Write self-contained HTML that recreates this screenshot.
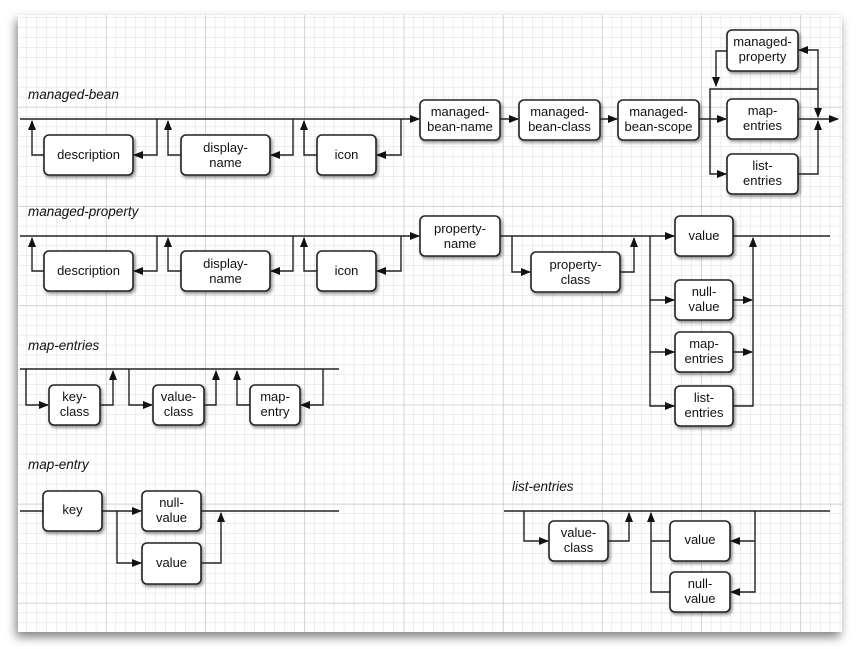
<!DOCTYPE html>
<html><head><meta charset="utf-8"><style>
body{margin:0;background:#fff;}
svg{display:block;}
text{font-family:"Liberation Sans",sans-serif;font-size:13px;fill:#111;}
.lbl{font-style:italic;font-size:13.5px;}
.b{fill:#fff;stroke:#222;stroke-width:1.6;filter:url(#sh);}
.l{stroke:#222;stroke-width:1.4;fill:none;}
</style></head><body>
<svg width="860" height="649" viewBox="0 0 860 649" xmlns="http://www.w3.org/2000/svg">
<defs>
<pattern id="mn" x="7" y="8" width="9.92" height="9.92" patternUnits="userSpaceOnUse">
<path d="M9.92 0V9.92M0 9.92H9.92" stroke="#dcdcdc" stroke-width="1" fill="none"/></pattern>
<pattern id="mj" x="7" y="8" width="99.2" height="99.2" patternUnits="userSpaceOnUse">
<path d="M0 0V99.2M0 0H99.2" stroke="#c4c4c4" stroke-width="1" fill="none"/></pattern>
<marker id="a" markerWidth="10" markerHeight="8" refX="9" refY="4" orient="auto" markerUnits="userSpaceOnUse">
<path d="M0 0L10 4L0 8z" fill="#111"/></marker>
<filter id="sh" x="-10%" y="-10%" width="130%" height="140%"><feDropShadow dx="1.5" dy="2" stdDeviation="1.5" flood-opacity="0.45"/></filter>
<filter id="ps" x="-5%" y="-5%" width="110%" height="112%"><feDropShadow dx="-2" dy="5" stdDeviation="5" flood-opacity="0.5"/></filter>
</defs>
<rect x="18" y="15" width="824" height="617" fill="#fff" filter="url(#ps)"/>
<rect x="18" y="15" width="824" height="617" fill="url(#mn)"/>
<rect x="18" y="15" width="824" height="617" fill="url(#mj)"/>

<!-- managed-bean -->
<text class="lbl" x="28" y="99">managed-bean</text>
<line class="l" x1="20" y1="119" x2="419" y2="119" marker-end="url(#a)"/>
<rect class="b" x="44" y="135" width="89" height="40" rx="5"/><text x="88.5" y="159" text-anchor="middle">description</text>
<path class="l" d="M44 155H32V121" marker-end="url(#a)"/>
<path class="l" d="M157 119V155H134" marker-end="url(#a)"/>
<rect class="b" x="181" y="135" width="89" height="40" rx="5"/><text x="225.5" y="152" text-anchor="middle">display-</text><text x="225.5" y="167" text-anchor="middle">name</text>
<path class="l" d="M181 155H168V121" marker-end="url(#a)"/>
<path class="l" d="M293 119V155H271" marker-end="url(#a)"/>
<rect class="b" x="317" y="135" width="59" height="40" rx="5"/><text x="346.5" y="159" text-anchor="middle">icon</text>
<path class="l" d="M317 155H304V121" marker-end="url(#a)"/>
<path class="l" d="M401 119V155H377" marker-end="url(#a)"/>
<rect class="b" x="420" y="100" width="80" height="40" rx="5"/><text x="460" y="116" text-anchor="middle">managed-</text><text x="460" y="131" text-anchor="middle">bean-name</text>
<line class="l" x1="500" y1="119" x2="518" y2="119" marker-end="url(#a)"/>
<rect class="b" x="519" y="100" width="81" height="40" rx="5"/><text x="559.5" y="116" text-anchor="middle">managed-</text><text x="559.5" y="131" text-anchor="middle">bean-class</text>
<line class="l" x1="600" y1="119" x2="617" y2="119" marker-end="url(#a)"/>
<rect class="b" x="618" y="100" width="81" height="40" rx="5"/><text x="658.5" y="116" text-anchor="middle">managed-</text><text x="658.5" y="131" text-anchor="middle">bean-scope</text>
<line class="l" x1="699" y1="119" x2="726" y2="119" marker-end="url(#a)"/>
<path class="l" d="M710 119V89H818"/>
<path class="l" d="M710 119V174H726" marker-end="url(#a)"/>
<rect class="b" x="727" y="30" width="71" height="41" rx="5"/><text x="762.5" y="46" text-anchor="middle">managed-</text><text x="762.5" y="61" text-anchor="middle">property</text>
<path class="l" d="M727 51H716V86" marker-end="url(#a)"/>
<path class="l" d="M818 89V50H799" marker-end="url(#a)"/>
<line class="l" x1="818" y1="89" x2="818" y2="117" marker-end="url(#a)"/>
<rect class="b" x="727" y="99" width="71" height="40" rx="5"/><text x="762.5" y="115" text-anchor="middle">map-</text><text x="762.5" y="130" text-anchor="middle">entries</text>
<rect class="b" x="727" y="154" width="71" height="40" rx="5"/><text x="762.5" y="170" text-anchor="middle">list-</text><text x="762.5" y="185" text-anchor="middle">entries</text>
<path class="l" d="M798 174H818V121" marker-end="url(#a)"/>
<line class="l" x1="798" y1="119" x2="838" y2="119" marker-end="url(#a)"/>

<!-- managed-property -->
<text class="lbl" x="28" y="216">managed-property</text>
<line class="l" x1="20" y1="236" x2="419" y2="236" marker-end="url(#a)"/>
<rect class="b" x="44" y="251" width="89" height="40" rx="5"/><text x="88.5" y="275" text-anchor="middle">description</text>
<path class="l" d="M44 271H32V238" marker-end="url(#a)"/>
<path class="l" d="M157 236V271H134" marker-end="url(#a)"/>
<rect class="b" x="181" y="251" width="89" height="40" rx="5"/><text x="225.5" y="268" text-anchor="middle">display-</text><text x="225.5" y="283" text-anchor="middle">name</text>
<path class="l" d="M181 271H168V238" marker-end="url(#a)"/>
<path class="l" d="M293 236V271H271" marker-end="url(#a)"/>
<rect class="b" x="317" y="251" width="59" height="40" rx="5"/><text x="346.5" y="275" text-anchor="middle">icon</text>
<path class="l" d="M317 271H304V238" marker-end="url(#a)"/>
<path class="l" d="M401 236V271H377" marker-end="url(#a)"/>
<rect class="b" x="420" y="216" width="80" height="40" rx="5"/><text x="460" y="233" text-anchor="middle">property-</text><text x="460" y="248" text-anchor="middle">name</text>
<line class="l" x1="500" y1="236" x2="674" y2="236" marker-end="url(#a)"/>
<path class="l" d="M512 236V272H530" marker-end="url(#a)"/>
<rect class="b" x="531" y="252" width="89" height="40" rx="5"/><text x="575.5" y="269" text-anchor="middle">property-</text><text x="575.5" y="284" text-anchor="middle">class</text>
<path class="l" d="M620 272H634V238" marker-end="url(#a)"/>
<path class="l" d="M650 236V406H674" marker-end="url(#a)"/>
<line class="l" x1="650" y1="300" x2="674" y2="300" marker-end="url(#a)"/>
<line class="l" x1="650" y1="352" x2="674" y2="352" marker-end="url(#a)"/>
<rect class="b" x="675" y="216" width="58" height="40" rx="5"/><text x="704" y="240" text-anchor="middle">value</text>
<rect class="b" x="675" y="280" width="58" height="40" rx="5"/><text x="704" y="296" text-anchor="middle">null-</text><text x="704" y="311" text-anchor="middle">value</text>
<rect class="b" x="675" y="332" width="58" height="40" rx="5"/><text x="704" y="348" text-anchor="middle">map-</text><text x="704" y="363" text-anchor="middle">entries</text>
<rect class="b" x="675" y="386" width="58" height="40" rx="5"/><text x="704" y="402" text-anchor="middle">list-</text><text x="704" y="417" text-anchor="middle">entries</text>
<line class="l" x1="733" y1="236" x2="830" y2="236"/>
<path class="l" d="M733 406H753V238" marker-end="url(#a)"/>
<line class="l" x1="733" y1="300" x2="752" y2="300" marker-end="url(#a)"/>
<line class="l" x1="733" y1="352" x2="752" y2="352" marker-end="url(#a)"/>

<!-- map-entries -->
<text class="lbl" x="28" y="350">map-entries</text>
<line class="l" x1="20" y1="369" x2="339" y2="369"/>
<path class="l" d="M26 369V405H48" marker-end="url(#a)"/>
<rect class="b" x="49" y="385" width="51" height="40" rx="5"/><text x="74.5" y="401" text-anchor="middle">key-</text><text x="74.5" y="416" text-anchor="middle">class</text>
<path class="l" d="M100 405H113V371" marker-end="url(#a)"/>
<path class="l" d="M129 369V405H152" marker-end="url(#a)"/>
<rect class="b" x="153" y="385" width="51" height="40" rx="5"/><text x="178.5" y="401" text-anchor="middle">value-</text><text x="178.5" y="416" text-anchor="middle">class</text>
<path class="l" d="M204 405H216V371" marker-end="url(#a)"/>
<path class="l" d="M250 405H237V371" marker-end="url(#a)"/>
<rect class="b" x="250" y="385" width="50" height="40" rx="5"/><text x="275" y="401" text-anchor="middle">map-</text><text x="275" y="416" text-anchor="middle">entry</text>
<path class="l" d="M323 369V405H301" marker-end="url(#a)"/>

<!-- map-entry -->
<text class="lbl" x="28" y="469">map-entry</text>
<line class="l" x1="20" y1="511" x2="43" y2="511"/>
<rect class="b" x="43" y="491" width="59" height="40" rx="5"/><text x="72.5" y="514" text-anchor="middle">key</text>
<line class="l" x1="102" y1="511" x2="141" y2="511" marker-end="url(#a)"/>
<path class="l" d="M117 511V563H141" marker-end="url(#a)"/>
<rect class="b" x="142" y="491" width="59" height="40" rx="5"/><text x="171.5" y="507" text-anchor="middle">null-</text><text x="171.5" y="522" text-anchor="middle">value</text>
<rect class="b" x="142" y="543" width="59" height="41" rx="5"/><text x="171.5" y="567" text-anchor="middle">value</text>
<line class="l" x1="201" y1="511" x2="339" y2="511"/>
<path class="l" d="M201 563H221V513" marker-end="url(#a)"/>

<!-- list-entries -->
<text class="lbl" x="512" y="491">list-entries</text>
<line class="l" x1="504" y1="511" x2="830" y2="511"/>
<path class="l" d="M524 511V541H548" marker-end="url(#a)"/>
<rect class="b" x="549" y="521" width="59" height="40" rx="5"/><text x="578.5" y="537" text-anchor="middle">value-</text><text x="578.5" y="552" text-anchor="middle">class</text>
<path class="l" d="M608 541H629V513" marker-end="url(#a)"/>
<path class="l" d="M670 592H651V513" marker-end="url(#a)"/>
<line class="l" x1="651" y1="541" x2="670" y2="541"/>
<rect class="b" x="670" y="521" width="60" height="40" rx="5"/><text x="700" y="544" text-anchor="middle">value</text>
<rect class="b" x="670" y="572" width="60" height="40" rx="5"/><text x="700" y="588" text-anchor="middle">null-</text><text x="700" y="603" text-anchor="middle">value</text>
<path class="l" d="M755 511V592H731" marker-end="url(#a)"/>
<line class="l" x1="755" y1="541" x2="731" y2="541" marker-end="url(#a)"/>
</svg>
</body></html>
